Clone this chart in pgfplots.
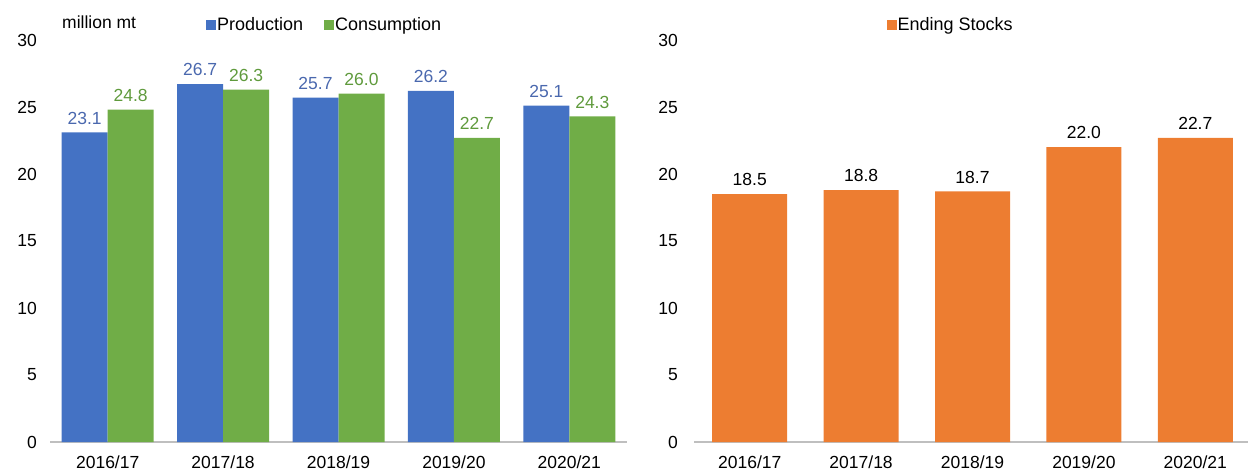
\documentclass[border=0pt]{standalone}
\usepackage{fontspec}
\setmainfont{Liberation Sans}
\usepackage{pgfplots}
\pgfplotsset{compat=1.18}
\definecolor{cblue}{HTML}{4472C4}
\definecolor{cgreen}{HTML}{70AD47}
\definecolor{corange}{HTML}{ED7D31}
\definecolor{caxis}{HTML}{BFBFBF}
\definecolor{cbluetext}{HTML}{4A68AE}
\definecolor{cgreentext}{HTML}{5F9A3C}
\newcommand{\cf}{\fontsize{17.5bp}{20bp}\selectfont}
\newcommand{\lf}{\fontsize{18bp}{20bp}\selectfont}
\pgfplotsset{
  sq/.style={legend image code/.code={\fill[##1] (0bp,-5bp) rectangle (10bp,5bp);}},
  mystyle/.style={
    scale only axis,
    height=402bp,
    ymin=0, ymax=30, ytick={0,5,...,30},
    xmin=-0.5, xmax=4.5, xtick={0,...,4},
    xticklabels={2016/17,2017/18,2018/19,2019/20,2020/21},
    axis x line*=bottom, axis y line*=left,
    x axis line style={draw=caxis, line width=1.6bp, -},
    y axis line style={draw=none},
    major tick length=0pt,
    tick style={draw=none},
    tick label style={font=\cf, inner sep=0pt, text=black},
    /pgf/number format/assume math mode=true,
    xticklabel style={anchor=north, yshift=-14bp},
    clip=false,
    legend style={draw=none, fill=none, font=\lf, legend columns=-1,
      anchor=center, nodes={inner sep=1bp},
      /tikz/every even column/.append style={column sep=20bp}},
    nodes near coords={\pgfmathprintnumber[fixed,fixed zerofill,precision=1,assume math mode=true]{\pgfplotspointmeta}},
    nodes near coords style={font=\cf, inner sep=1bp, yshift=7bp},
  }
}
\begin{document}
\begin{tikzpicture}
\path[use as bounding box] (0,0) rectangle (1248bp,475bp);
\begin{axis}[mystyle, at={(50bp,33bp)}, anchor=south west, width=577bp,
  yticklabel style={anchor=east, xshift=-13bp},
  ybar=0pt, bar width=46bp,
  legend style={at={(axis description cs:0.475,1.037)}},
]
\addplot[fill=cblue, draw=none, sq, nodes near coords style={text=cbluetext}] coordinates {(0,23.1) (1,26.7) (2,25.7) (3,26.2) (4,25.1)};
\addlegendentry{Production}
\addplot[fill=cgreen, draw=none, sq, nodes near coords style={text=cgreentext}] coordinates {(0,24.8) (1,26.3) (2,26.0) (3,22.7) (4,24.3)};
\addlegendentry{Consumption}
\node[anchor=west, font=\cf, inner sep=0pt] at (axis description cs:0.0208,1.044) {million mt};
\end{axis}
\begin{axis}[mystyle, at={(694bp,33bp)}, anchor=south west, width=557bp,
  yticklabel style={anchor=east, xshift=-16bp},
  ybar=0pt, bar width=75bp,
  legend style={at={(axis description cs:0.46,1.037)}},
]
\addplot[fill=corange, draw=none, sq, nodes near coords style={text=black}] coordinates {(0,18.5) (1,18.8) (2,18.7) (3,22.0) (4,22.7)};
\addlegendentry{Ending Stocks}
\end{axis}
\end{tikzpicture}
\end{document}
